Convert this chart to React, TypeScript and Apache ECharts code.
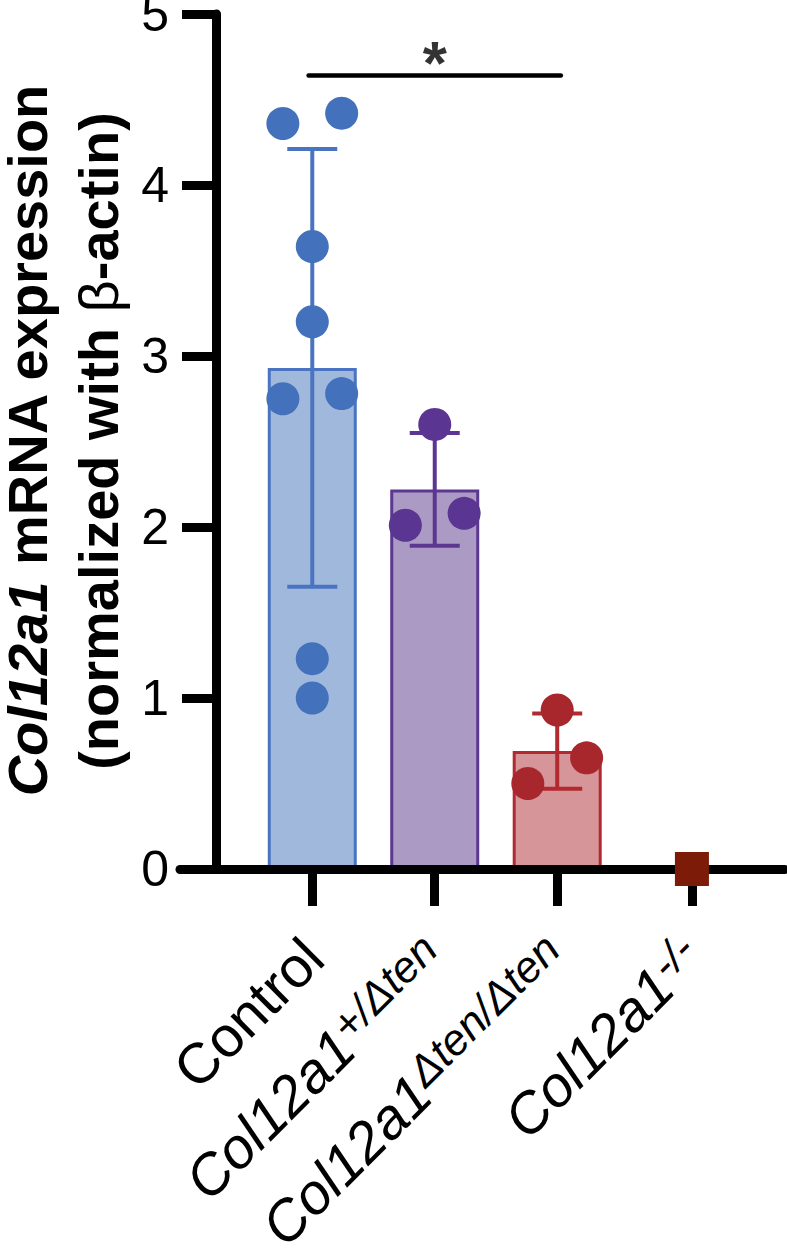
import React, { useEffect, useRef } from 'react';
import * as echarts from 'echarts';

// ---- data ----
const categoryNames = ['Control', 'Col12a1', 'Col12a1', 'Col12a1'];
const categorySup = ['', '+/Δten', 'Δten/Δten', '-/-'];
const categoryItalic = [false, true, true, true];
const categoryX = [0, 1, 2, 3.1];
const means = [2.93, 2.22, 0.69, 0];
const sds = [1.28, 0.33, 0.22, 0];
const controlValues = [4.36, 4.42, 3.64, 3.2, 2.75, 2.78, 1.23, 1.0];
const controlJitter = [-0.24, 0.24, 0, 0, -0.24, 0.24, 0, 0];
const hetValues = [2.6, 2.01, 2.08];
const hetJitter = [0, -0.24, 0.24];
const homValues = [0.93, 0.65, 0.5];
const homJitter = [0, 0.24, -0.24];
const koValues = [0];
const yMin = 0;
const yMax = 5;
const yInterval = 1;
const sigFrom = -0.03;
const sigTo = 2.03;
const sigY = 4.64;
const sigLabel = '*';

// ---- styles ----
const FONT = "'Liberation Sans', Arial, Helvetica, sans-serif";
const barFill = ['#a0b8dc', '#ab9bc4', '#d69599'];
const barBorder = ['#4a74c1', '#5b3791', '#b22a30'];
const dotColor = ['#4371bc', '#5b3592', '#a8272d'];
const koColor = '#7b1b08';

export default function App() {
  const ref = useRef<HTMLDivElement>(null);
  useEffect(() => {
    if (!ref.current) return;
    const chart = echarts.init(ref.current, null, { renderer: 'svg' });

    const pts = (vals: number[], jit: number[], cx: number) =>
      vals.map((v, i) => [cx + jit[i], v]);

    const labelFor = (value: number) => {
      const i = categoryX.findIndex((c) => Math.abs(c - value) < 1e-6);
      if (i < 0) return '';
      const main = categoryItalic[i] ? `{it|${categoryNames[i]}}` : `{reg|${categoryNames[i]}}`;
      return categorySup[i] ? `${main}{sup|${categorySup[i]}}` : main;
    };

    const titleRich = (extra: any) => ({
      b: { fontSize: 56, lineHeight: 42, fontFamily: FONT, fontWeight: 'bold', fill: '#000', color: '#000' },
      ...extra,
    });

    const option: any = {
      animation: false,
      grid: { left: 180, right: 2, top: 14, bottom: 388, outerBoundsMode: 'none', containLabel: false },
      xAxis: {
        type: 'value',
        min: -1.08,
        max: 3.86,
        z: 3,
        splitLine: { show: false },
        axisLine: { show: true, onZero: true, lineStyle: { color: '#000', width: 9 } },
        axisTick: { show: true, customValues: categoryX, length: 37, lineStyle: { color: '#000', width: 9 } },
        axisLabel: {
          show: true,
          customValues: categoryX,
          rotate: 45,
          margin: 78,
          formatter: (v: number) => labelFor(v),
          rich: {
            reg: { fontSize: 57, fontFamily: FONT, color: '#000', lineHeight: 60, verticalAlign: 'bottom' },
            it: { fontSize: 57, fontFamily: FONT, fontStyle: 'italic', color: '#000', lineHeight: 60, verticalAlign: 'bottom' },
            sup: { fontSize: 44, fontFamily: FONT, fontStyle: 'italic', color: '#000', lineHeight: 10, verticalAlign: 'top' },
          },
        },
      },
      yAxis: {
        type: 'value',
        min: yMin,
        max: yMax,
        interval: yInterval,
        offset: -36,
        splitLine: { show: false },
        axisLine: { show: true, onZero: false, lineStyle: { color: '#000', width: 9 } },
        axisTick: { show: true, length: 34, lineStyle: { color: '#000', width: 9 } },
        axisLabel: { fontSize: 50, fontFamily: FONT, color: '#000', margin: 47, padding: [8, 0, 0, 0] },
      },
      graphic: [
        {
          type: 'text',
          x: 27,
          y: 440,
          rotation: Math.PI / 2,
          style: {
            text: '{bi|Col12a1}{b| mRNA expression}',
            align: 'center',
            verticalAlign: 'middle',
            textAlign: 'center',
            textVerticalAlign: 'middle',
            rich: titleRich({
              bi: { fontSize: 56, lineHeight: 42, fontFamily: FONT, fontWeight: 'bold', fontStyle: 'italic', fill: '#000', color: '#000' },
            }),
          },
        },
        {
          type: 'text',
          x: 98,
          y: 441,
          rotation: Math.PI / 2,
          style: {
            text: '{b|(normalized with }{g|β}{b|-actin)}',
            align: 'center',
            verticalAlign: 'middle',
            textAlign: 'center',
            textVerticalAlign: 'middle',
            rich: titleRich({
              g: { fontSize: 56, lineHeight: 42, fontFamily: FONT, fontWeight: 'normal', fill: '#000', color: '#000' },
            }),
          },
        },
      ],
      series: [
        {
          type: 'bar',
          barWidth: 89,
          z: 2,
          data: categoryX
            .map((x, i) => ({
              value: [x, means[i]],
              itemStyle: { color: barFill[i], borderColor: barBorder[i], borderWidth: 3 },
            }))
            .filter((d, i) => means[i] > 0),
        },
        {
          type: 'custom',
          z: 4,
          data: categoryX.map((x, i) => [x, means[i], sds[i]]),
          encode: { x: 0, y: 1 },
          renderItem: (params: any, api: any) => {
            const x = api.value(0);
            const m = api.value(1);
            const s = api.value(2);
            if (!(s > 0)) return null;
            const top = api.coord([x, m + s]);
            const bot = api.coord([x, m - s]);
            const color = barBorder[params.dataIndex];
            const st = { stroke: color, lineWidth: 4 };
            return {
              type: 'group',
              children: [
                { type: 'line', shape: { x1: top[0], y1: top[1], x2: bot[0], y2: bot[1] }, style: st },
                { type: 'line', shape: { x1: top[0] - 25, y1: top[1], x2: top[0] + 25, y2: top[1] }, style: st },
                { type: 'line', shape: { x1: bot[0] - 25, y1: bot[1], x2: bot[0] + 25, y2: bot[1] }, style: st },
              ],
            };
          },
        },
        {
          type: 'scatter',
          z: 5,
          symbol: 'circle',
          symbolSize: 33,
          itemStyle: { color: dotColor[0], opacity: 1 },
          data: pts(controlValues, controlJitter, categoryX[0]),
        },
        {
          type: 'scatter',
          z: 5,
          symbol: 'circle',
          symbolSize: 33,
          itemStyle: { color: dotColor[1], opacity: 1 },
          data: pts(hetValues, hetJitter, categoryX[1]),
        },
        {
          type: 'scatter',
          z: 5,
          symbol: 'circle',
          symbolSize: 33,
          itemStyle: { color: dotColor[2], opacity: 1 },
          data: pts(homValues, homJitter, categoryX[2]),
        },
        {
          type: 'scatter',
          z: 6,
          symbol: 'rect',
          symbolSize: 34,
          itemStyle: { color: koColor, opacity: 1 },
          data: koValues.map((v) => [categoryX[3], v]),
        },
        {
          type: 'line',
          z: 5,
          symbol: 'none',
          silent: true,
          lineStyle: { color: '#000', width: 4.5, cap: 'round' },
          data: [
            [sigFrom, sigY],
            [sigTo, sigY],
          ],
        },
        {
          type: 'scatter',
          z: 5,
          symbolSize: 0,
          silent: true,
          data: [[(sigFrom + sigTo) / 2, sigY]],
          label: {
            show: true,
            formatter: sigLabel,
            position: 'inside',
            offset: [0, -13],
            fontSize: 62,
            fontWeight: 'bold',
            fontFamily: FONT,
            color: '#000',
          },
        },
      ],
    };
    chart.setOption(option);
    return () => chart.dispose();
  }, []);
  return (
    <div
      ref={ref}
      style={{ position: 'absolute', left: 0, top: 0, width: 787, height: 1257, background: '#fff' }}
    />
  );
}
